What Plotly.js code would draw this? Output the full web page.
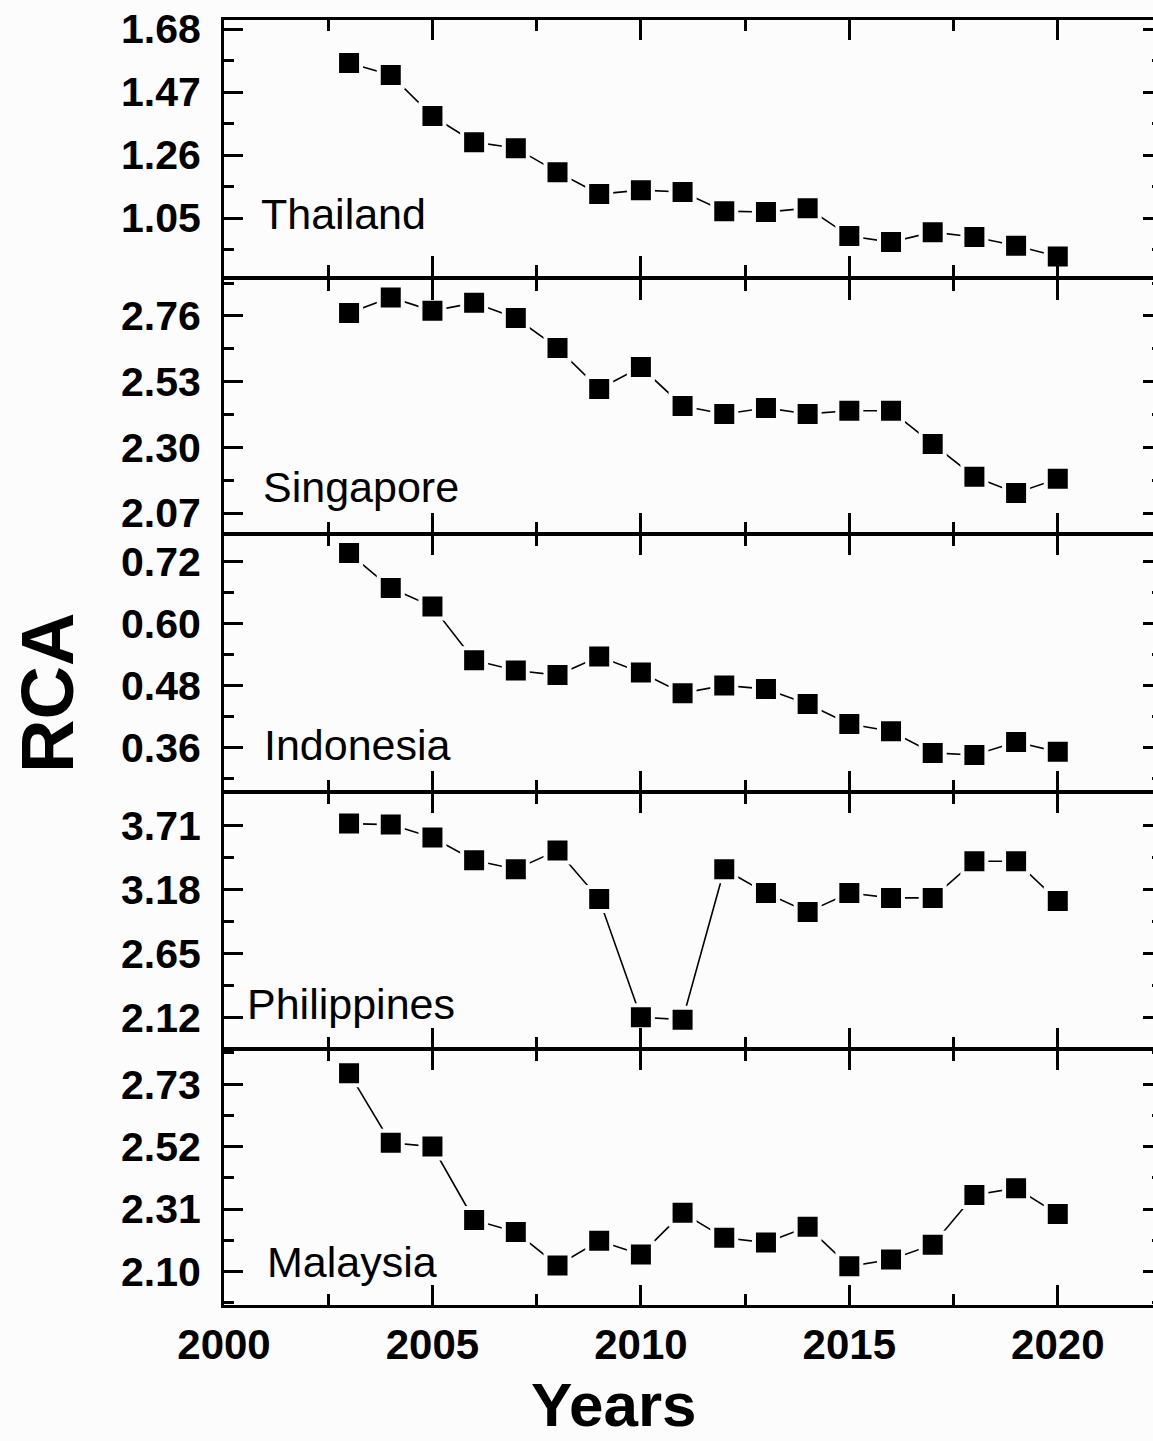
<!DOCTYPE html>
<html>
<head>
<meta charset="utf-8">
<script src="https://cdn.plot.ly/plotly-3.0.1.min.js"></script>
<style>
html,body{margin:0;padding:0;overflow:hidden;background:#fcfcfc;}
#chart{width:1175px;height:1441px;}
</style>
</head>
<body>
<div id="chart"></div>
<script>
// ---- data ----
const years = [2003,2004,2005,2006,2007,2008,2009,2010,2011,2012,2013,2014,2015,2016,2017,2018,2019,2020];
const countries = ["Thailand","Singapore","Indonesia","Philippines","Malaysia"];
const thailand = [1.567,1.527,1.390,1.303,1.283,1.203,1.130,1.143,1.137,1.073,1.070,1.083,0.990,0.970,1.003,0.987,0.958,0.922];
const singapore = [2.770,2.825,2.778,2.806,2.753,2.648,2.504,2.581,2.445,2.417,2.438,2.417,2.428,2.428,2.312,2.197,2.140,2.190];
const indonesia = [0.737,0.669,0.633,0.529,0.509,0.500,0.536,0.505,0.465,0.480,0.473,0.444,0.405,0.391,0.349,0.345,0.370,0.351];
const philippines = [3.726,3.718,3.611,3.422,3.348,3.504,3.100,2.120,2.100,3.348,3.150,2.994,3.150,3.110,3.110,3.414,3.414,3.085];
const malaysia = [2.767,2.533,2.520,2.273,2.233,2.120,2.203,2.157,2.297,2.213,2.197,2.250,2.117,2.140,2.190,2.357,2.380,2.293];
const series = [thailand, singapore, indonesia, philippines, malaysia];
// y tick settings (start, step) as on the reference axes
const yTick0 = [1.05, 2.07, 0.36, 2.12, 2.10];
const yDtick = [0.21, 0.23, 0.12, 0.53, 0.21];
const yRanges = [[0.857,1.71],[2.0,2.886],[0.275,0.772],[1.865,3.98],[1.987,2.845]];
const xTickVals = [2000,2005,2010,2015,2020];

// ---- layout helpers ----
const H = 1441, W = 1175;
const mt = 20, mb = 136;
const plotTop = mt, plotBot = H - mb, plotH = plotBot - plotTop;
// panel pixel bounds [top, bottom]
const panelPx = [[20,276],[280,533],[535,791],[793,1048],[1050,1305]];
const toPaperY = y => (plotBot - y) / plotH;
const ml = 224, mr = 13;
const plotW = W - ml - mr;
const toPaperX = x => (x - ml) / plotW;

const font = "Liberation Sans, Arial, sans-serif";
const traces = [];
const layout = {
  width: W, height: H,
  margin: {l: ml, r: mr, t: mt, b: mb},
  paper_bgcolor: "#fcfcfc",
  plot_bgcolor: "#fcfcfc",
  showlegend: false,
  font: {family: font, color: "#000"},
  annotations: []
};

const labelPos = [[259,214],[261,487],[262,745],[245,1004],[265,1262]];

series.forEach((vals, i) => {
  const n = i + 1;
  const xa = n === 1 ? "x" : "x" + n;
  const ya = n === 1 ? "y" : "y" + n;
  traces.push({
    x: years, y: vals, xaxis: xa, yaxis: ya,
    type: "scatter", mode: "lines+markers",
    line: {color: "#000", width: 1.6},
    marker: {symbol: "square", size: 24, color: "#000", line: {color: "#fcfcfc", width: 4}},
    cliponaxis: false
  });
  const xkey = n === 1 ? "xaxis" : "xaxis" + n;
  const ykey = n === 1 ? "yaxis" : "yaxis" + n;
  const d0 = toPaperY(panelPx[i][1]), d1 = toPaperY(panelPx[i][0]);
  layout[xkey] = {
    domain: [0, 1],
    anchor: ya,
    range: [2000, 2022.5],
    tickmode: "array", tickvals: xTickVals,
    ticks: "inside", ticklen: 20, tickwidth: 3, tickcolor: "#000",
    minor: {dtick: 2.5, tick0: 2000, ticks: "inside", ticklen: 11, tickwidth: 3, tickcolor: "#000", showgrid: false},
    showline: true, linewidth: 3, linecolor: "#000", mirror: "allticks",
    showgrid: false, zeroline: false,
    showticklabels: n === 5,
    tickfont: {family: font, size: 42, weight: "bold", color: "#000"},
    ticklabelstandoff: 1
  };
  if (n !== 1) layout[xkey].matches = "x";
  layout[ykey] = {
    domain: [d0, d1],
    anchor: xa,
    range: yRanges[i],
    tick0: yTick0[i], dtick: yDtick[i], tickmode: "linear",
    tickformat: ".2f",
    ticks: "inside", ticklen: 19, tickwidth: 3, tickcolor: "#000",
    minor: {dtick: yDtick[i] / 2, tick0: yTick0[i], ticks: "inside", ticklen: 10, tickwidth: 3, tickcolor: "#000", showgrid: false},
    showline: true, linewidth: 3, linecolor: "#000", mirror: "allticks",
    showgrid: false, zeroline: false,
    tickfont: {family: font, size: 41, weight: "bold", color: "#000"},
    ticklabelstandoff: 12
  };
  layout.annotations.push({
    text: countries[i], showarrow: false,
    xref: "paper", yref: "paper",
    x: toPaperX(labelPos[i][0]), y: toPaperY(labelPos[i][1]),
    xanchor: "left", yanchor: "middle",
    font: {family: font, size: 43, color: "#000"}
  });
});

layout.annotations.push({
  text: "Years", showarrow: false, xref: "paper", yref: "paper",
  x: toPaperX(614), y: toPaperY(1404), xanchor: "center", yanchor: "middle",
  font: {family: font, size: 62, weight: "bold", color: "#000"}
});
layout.annotations.push({
  text: "RCA", showarrow: false, xref: "paper", yref: "paper",
  x: toPaperX(47), y: toPaperY(693), xanchor: "center", yanchor: "middle",
  textangle: -90,
  font: {family: font, size: 74, weight: "bold", color: "#000"}
});

Plotly.newPlot("chart", traces, layout, {staticPlot: true, displayModeBar: false});
</script>
</body>
</html>
